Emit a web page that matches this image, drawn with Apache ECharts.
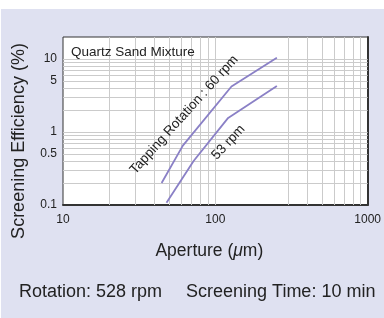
<!DOCTYPE html>
<html>
<head>
<meta charset="utf-8">
<script src="https://cdn.jsdelivr.net/npm/echarts@6/dist/echarts.min.js"></script>
<style>
    html, body { margin: 0; padding: 0; background: #ffffff; }
    #main { position: absolute; left: 1px; top: 9px; width: 383px; height: 309px; }
</style>
</head>
<body>
<div id="main"></div>
<script>
// tick labels
var xTicks = [10, 100, 1000];
var yTicks = [0.1, 0.5, 1, 5, 10];
// fine grid of the log paper
var xGrid = [20, 30, 40, 50, 60, 70, 80, 90, 100, 300, 400, 500, 600, 700, 800, 900];
var yGrid = [0.2, 0.3, 0.4, 0.5, 0.6, 0.7, 0.8, 0.9, 1, 2, 3, 4, 5, 6, 7, 8, 9, 10];
// [aperture um, screening efficiency %]
var rpm60 = [[44.4, 0.2], [61.2, 0.65], [127.6, 4.2], [253.5, 10.4]];
var rpm53 = [[47.8, 0.107], [72, 0.4], [121.4, 1.56], [253.5, 4.28]];
var lineColor = "#8a80c6";
var txt = "#222222";
var font = "Liberation Sans, Arial, sans-serif";

function plain(v) {
    return String(v);
}

var myChart = echarts.init(document.getElementById("main"));
var option = {
    backgroundColor: "#dfe1f1",
    animation: false,
    textStyle: { fontFamily: font, color: txt },
    title: [
        {
            text: "Quartz Sand Mixture",
            left: 70, top: 36, padding: 0,
            textStyle: { fontSize: 13.5, fontWeight: "normal", color: txt, fontFamily: font }
        },
        {
            text: "Rotation: 528 rpm",
            left: 18, top: 274, padding: 0,
            textStyle: { fontSize: 18, fontWeight: "normal", color: txt, fontFamily: font }
        },
        {
            text: "Screening Time: 10 min",
            left: 185, top: 274, padding: 0,
            textStyle: { fontSize: 18, fontWeight: "normal", color: txt, fontFamily: font }
        }
    ],
    grid: {
        left: 62, right: 14, top: 28, bottom: 113,
        show: true,
        backgroundColor: "#ffffff",
        borderColor: "#333333",
        borderWidth: 1
    },
    xAxis: {
        type: "log",
        logBase: 10,
        min: 10,
        max: 1000,
        name: "Aperture ({i|μ}m)",
        nameLocation: "middle",
        nameGap: 37,
        nameTextStyle: {
            fontSize: 17.5, color: txt, fontFamily: font, padding: [0, 12, 0, 0],
            rich: { i: { fontStyle: "italic", fontSize: 17.5, color: txt, fontFamily: font } }
        },
        axisLine: { show: true, lineStyle: { color: "#333333", width: 2 } },
        axisTick: { show: false },
        splitLine: { show: false },
        axisLabel: { customValues: xTicks, formatter: plain, margin: 9, fontSize: 12, color: txt, fontFamily: font }
    },
    yAxis: [
        {
            type: "log",
            logBase: 10,
            min: 0.1,
            max: 20,
            name: "Screening Efficiency (%)",
            nameLocation: "middle",
            nameGap: 35,
            nameTextStyle: { fontSize: 18, color: txt, fontFamily: font, padding: [0, 40, 0, 0] },
            axisLine: { show: false },
            axisTick: { show: false },
            splitLine: { show: false },
            axisLabel: { customValues: yTicks, formatter: plain, margin: 6, fontSize: 12, color: txt, fontFamily: font }
        },
        {
            type: "log",
            logBase: 10,
            min: 0.1,
            max: 20,
            position: "right",
            axisLine: { show: true, lineStyle: { color: "#333333", width: 2 } },
            axisTick: { show: false },
            splitLine: { show: false },
            axisLabel: { show: false }
        }
    ],
    series: [
        {
            name: "grid",
            type: "line",
            z: 1,
            data: [],
            markLine: {
                z: 1,
                silent: true,
                symbol: ["none", "none"],
                label: { show: false },
                lineStyle: { color: "#cbcbcb", width: 1, type: "solid" },
                data: xGrid.map(function(v) { return { xAxis: v }; })
                    .concat(yGrid.map(function(v) { return { yAxis: v }; }))
            }
        },
        {
            name: "60 rpm",
            type: "line",
            z: 3,
            showSymbol: false,
            lineStyle: { color: lineColor, width: 1.8 },
            data: rpm60,
            markPoint: {
                z: 4,
                symbolSize: 0,
                label: {
                    show: true, position: "inside", rotate: 48,
                    formatter: "Tapping Rotation : 60 rpm",
                    fontSize: 13.5, color: txt, fontFamily: font
                },
                data: [{ coord: [62.4, 1.72] }]
            }
        },
        {
            name: "53 rpm",
            type: "line",
            z: 3,
            showSymbol: false,
            lineStyle: { color: lineColor, width: 1.8 },
            data: rpm53,
            markPoint: {
                z: 4,
                symbolSize: 0,
                label: {
                    show: true, position: "inside", rotate: 47,
                    formatter: "53 rpm",
                    fontSize: 13.5, color: txt, fontFamily: font
                },
                data: [{ coord: [122, 0.72] }]
            }
        }
    ]
};
myChart.setOption(option);
</script>
</body>
</html>
